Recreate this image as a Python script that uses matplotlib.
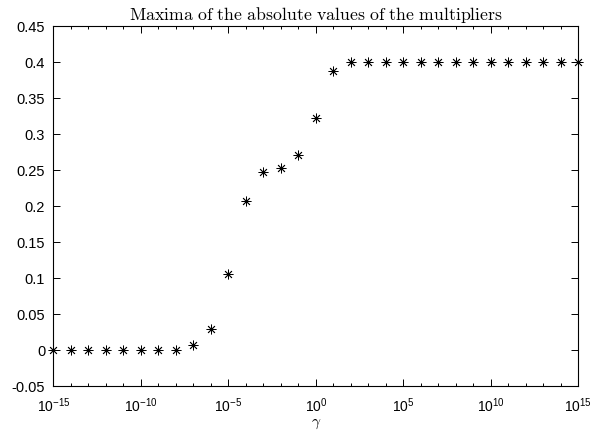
import matplotlib

matplotlib.use("Agg")
import matplotlib.pyplot as plt
import numpy as np
from matplotlib.ticker import FixedLocator, LogFormatterSciNotation, NullFormatter

# gamma = 10^-15 ... 10^15, one point per decade
exponents = list(range(-15, 16))
max_abs_multiplier = [
    0.0, 0.0, 0.0, 0.0, 0.0, 0.0, 0.0, 0.0,   # 1e-15 .. 1e-8
    0.006, 0.029, 0.105, 0.206, 0.247, 0.253,  # 1e-7 .. 1e-2
    0.271, 0.322, 0.387,                       # 1e-1 .. 1e1
    0.4, 0.4, 0.4, 0.4, 0.4, 0.4, 0.4, 0.4,    # 1e2 .. 1e9
    0.4, 0.4, 0.4, 0.4, 0.4, 0.4,              # 1e10 .. 1e15
]
y_ticks = [-0.05, 0, 0.05, 0.1, 0.15, 0.2, 0.25, 0.3, 0.35, 0.4, 0.45]
y_ticklabels = ["-0.05", "0", "0.05", "0.1", "0.15", "0.2", "0.25",
                "0.3", "0.35", "0.4", "0.45"]
x_major_exp = [-15, -10, -5, 0, 5, 10, 15]

plt.rcParams["font.family"] = ["Liberation Sans", "DejaVu Sans"]

gamma = 10.0 ** np.array(exponents)

fig = plt.figure(figsize=(5.91, 4.35), dpi=100)
ax = fig.add_axes([0.0905, 0.111, 0.888, 0.8276])

ax.plot(gamma, max_abs_multiplier, linestyle="none", marker=(8, 2, 0),
        markersize=7, markeredgewidth=0.6, color="black", clip_on=False)

ax.set_xscale("log")
ax.set_xlim(1e-15, 1e15)
ax.set_ylim(-0.05, 0.45)

ax.xaxis.set_major_locator(FixedLocator([10.0 ** e for e in x_major_exp]))
ax.xaxis.set_major_formatter(LogFormatterSciNotation())
ax.xaxis.set_minor_locator(FixedLocator(list(gamma)))
ax.xaxis.set_minor_formatter(NullFormatter())
ax.set_yticks(y_ticks)
ax.set_yticklabels(y_ticklabels)

ax.tick_params(which="both", direction="in", top=True, right=True,
               labelsize=10, width=0.7, color="black")
ax.tick_params(axis="y", labelsize=10.5, pad=6)
ax.tick_params(which="major", length=5)
ax.tick_params(which="minor", length=2.5)
ax.tick_params(axis="x", pad=7)
for s in ax.spines.values():
    s.set_linewidth(0.8)

ax.set_title(r"$\mathrm{Maxima\ of\ the\ absolute\ values\ of\ the\ multipliers}$",
             fontsize=12.8, math_fontfamily="cm", pad=5)
ax.set_xlabel(r"$\gamma$", fontsize=11, math_fontfamily="cm", labelpad=1)

fig.savefig("out.png", dpi=100)
